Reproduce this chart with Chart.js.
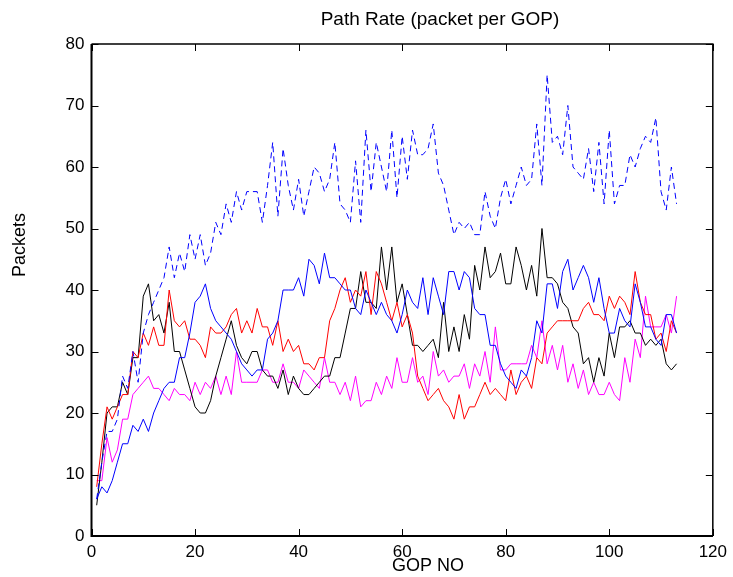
<!DOCTYPE html>
<html>
<head>
<meta charset="utf-8">
<title>Path Rate</title>
<script src="https://cdn.jsdelivr.net/npm/chart.js@4/dist/chart.umd.min.js"></script>
<style>
  html, body { margin: 0; padding: 0; background: #fff; }
  canvas { display: block; }
</style>
</head>
<body>
<canvas id="pathRateChart" width="733" height="577"></canvas>
<script>
// GOP numbers 1..113 (x positions)
const gopNo = Array.from({ length: 113 }, (_, i) => i + 1);

// packets per GOP
const totalRate = [6,12,17,17,19,26,24,30,25,33, 36,38,40,42,47,42,46,43,49,45,
  49,44,46,51,49,54,51,56,53,56, 56,56,51,57,64,52,63,57,53,58,
  52,56,60,59,56,58,64,54,53,51, 61,51,66,56,64,60,56,66,55,65,
  58,66,62,62,63,67,59,57,53,49, 51,50,51,49,49,56,52,50,55,58,
  54,57,60,57,58,67,57,75,64,65, 62,70,60,59,58,63,56,64,54,66,
  54,57,57,62,60,63,65,64,68,56, 53,60,54];

const path1 = [6,8,7,9,12,15,15,18,17,19, 17,20,22,24,25,25,29,29,33,38,
  39,41,37,35,34,33,32,30,28,27, 26,27,27,32,33,35,40,40,40,42,
  39,45,44,41,46,42,42,41,40,40, 37,36,40,38,36,38,36,35,33,36,
  40,38,37,42,36,42,39,36,43,43, 40,43,42,37,36,36,31,31,28,26,
  25,24,27,26,29,35,33,41,41,37, 43,45,40,42,44,42,38,42,37,33,
  33,37,35,34,41,38,34,34,32,31, 36,36,33];

const path2 = [8,15,21,19,21,23,23,30,29,33, 31,34,31,31,40,35,34,35,32,32,
  31,29,34,33,33,34,36,37,33,35, 33,37,34,34,31,35,30,32,30,31,
  28,28,27,29,29,35,37,40,42,38, 40,39,43,36,43,41,38,35,38,34,
  36,33,26,24,22,23,24,22,21,19, 23,19,21,21,23,25,23,24,23,22,
  27,23,25,26,24,29,28,33,34,35, 35,35,35,35,37,38,36,36,35,39,
  37,39,38,36,43,38,36,36,32,33, 30,35,33];

const path3 = [5,12,20,21,21,25,23,29,29,39, 41,35,36,33,38,30,30,27,24,21,
  20,20,22,26,29,32,35,31,29,28, 30,30,27,26,26,24,27,23,26,24,
  23,23,24,25,26,26,29,29,33,37, 37,43,38,38,37,47,40,47,38,41,
  36,31,31,30,31,32,29,38,30,34, 30,36,32,44,40,47,42,43,46,41,
  41,47,44,40,44,39,50,42,42,41, 38,37,34,33,28,29,25,29,26,33,
  29,34,34,35,33,33,31,32,31,32, 28,27,28];

const path4 = [9,9,16,12,14,19,19,23,24,25, 26,24,24,23,22,24,23,23,22,25,
  23,25,24,26,23,26,23,30,25,25, 25,25,27,27,25,25,28,25,25,24,
  27,26,25,24,29,25,25,23,25,22, 26,21,22,22,25,23,26,24,29,25,
  25,29,25,26,23,30,26,27,25,26, 26,28,24,28,26,30,25,34,27,27,
  28,28,28,28,31,29,35,28,31,27, 31,25,28,24,27,23,25,23,23,25,
  23,22,29,25,32,29,39,34,34,34, 36,33,39];

const FONT = "'Liberation Sans', Arial, sans-serif";

function toPoints(values) {
  return values.map((v, i) => ({ x: gopNo[i], y: v }));
}

function lineSet(values, color, dash) {
  return {
    data: toPoints(values),
    borderColor: color,
    borderWidth: 1,
    borderDash: dash || [],
    pointRadius: 0,
    tension: 0,
    fill: false
  };
}

// box, inward ticks and the three labels, MATLAB style
const axesFrame = {
  id: 'axesFrame',
  afterDraw(chart) {
    const { ctx, chartArea: a, scales: { x, y } } = chart;
    ctx.save();
    ctx.strokeStyle = '#000';
    ctx.lineWidth = 1;
    ctx.beginPath();
    x.ticks.forEach(t => {
      const px = Math.round(x.getPixelForValue(t.value)) + 0.5;
      ctx.moveTo(px, a.bottom); ctx.lineTo(px, a.bottom - 7);
      ctx.moveTo(px, a.top); ctx.lineTo(px, a.top + 7);
    });
    y.ticks.forEach(t => {
      const py = Math.round(y.getPixelForValue(t.value)) + 0.5;
      ctx.moveTo(a.left, py); ctx.lineTo(a.left + 7, py);
      ctx.moveTo(a.right, py); ctx.lineTo(a.right - 7, py);
    });
    ctx.stroke();

    ctx.lineWidth = 1.5;
    ctx.beginPath();
    ctx.moveTo(a.left, a.top); ctx.lineTo(a.right, a.top); ctx.lineTo(a.right, a.bottom);
    ctx.stroke();
    ctx.lineWidth = 2;
    ctx.beginPath();
    ctx.moveTo(a.left, a.top); ctx.lineTo(a.left, a.bottom); ctx.lineTo(a.right, a.bottom);
    ctx.stroke();

    ctx.fillStyle = '#000';
    ctx.textAlign = 'center';
    ctx.textBaseline = 'middle';
    ctx.font = '19px ' + FONT;
    ctx.fillText('Path Rate (packet per GOP)', 440, 20);
    ctx.font = '18px ' + FONT;
    ctx.fillText('GOP NO', 428, 566);
    ctx.translate(20, 245);
    ctx.rotate(-Math.PI / 2);
    ctx.fillText('Packets', 0, 0);
    ctx.restore();
  }
};

const chart = new Chart(document.getElementById('pathRateChart'), {
  type: 'line',
  data: {
    datasets: [
      lineSet(totalRate, '#0000ff', [6, 4]),
      lineSet(path1, '#0000ff'),
      lineSet(path2, '#ff0000'),
      lineSet(path3, '#000000'),
      lineSet(path4, '#ff00ff')
    ]
  },
  options: {
    responsive: false,
    devicePixelRatio: 1,
    animation: false,
    layout: { padding: { top: 44, right: 19, left: 0, bottom: 0 } },
    plugins: {
      legend: { display: false },
      title: { display: false },
      tooltip: { enabled: false }
    },
    scales: {
      x: {
        type: 'linear',
        min: 0,
        max: 120,
        grid: { display: false, drawTicks: false },
        border: { display: false },
        ticks: { stepSize: 20, padding: 6, color: '#000', font: { family: FONT, size: 17 } },
        afterFit: s => { s.height = 41; }
      },
      y: {
        min: 0,
        max: 80,
        grid: { display: false, drawTicks: false },
        border: { display: false },
        ticks: { stepSize: 10, padding: 7, color: '#000', font: { family: FONT, size: 17 } },
        afterFit: s => { s.width = 91.5; }
      }
    }
  },
  plugins: [axesFrame]
});
</script>
</body>
</html>
